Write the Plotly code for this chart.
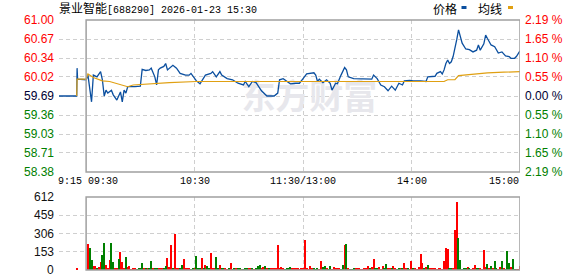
import plotly.graph_objects as go

# ---------------- data ----------------
stock_name = "景业智能"
stock_code = "688290"
trade_date = "2026-01-23"
trade_time = "15:30"
prev_close = 59.69

# minutes from 09:30 (negative = pre-market 09:15-09:30), price vertices
price_minutes = [-15, -5.2, -5, -4.7, 0, 1, 3, 4, 6, 8, 9, 10, 11, 12, 14, 15, 17, 19, 20, 21,
                 22, 23, 27, 30, 31, 33, 35, 36, 38, 39, 40, 41, 43, 44, 45, 46, 48, 50, 52, 55,
                 57, 58, 61, 63, 66, 69, 70, 72, 74, 75, 78, 81, 84, 87, 88, 90, 92, 94, 97, 100,
                 104, 106, 107, 109, 111, 113, 116, 118, 120, 122, 126, 127, 128, 129, 131, 133, 135, 136, 138, 139,
                 141, 143, 144, 145, 148, 153, 158, 159, 161, 163, 165, 167, 169, 171, 173, 175, 176, 179, 181, 185,
                 188, 189, 193, 194, 196, 197, 198, 199, 200, 201, 202, 203, 204, 205, 206, 207, 208, 210, 212, 214,
                 216, 217, 218, 220, 221, 222, 223, 224, 226, 228, 230, 232, 234, 235, 237, 238, 240]
price_values = [59.69, 59.69, 60.17, 59.98, 59.97, 60.05, 59.59, 60.05, 60.02, 60.11, 59.97, 59.69, 59.79, 59.74, 59.79, 59.71, 59.62, 59.76, 59.59, 59.79,
                59.74, 59.85, 59.85, 59.86, 60.15, 60.13, 60.14, 60.17, 60.02, 59.88, 60.14, 60.17, 60.20, 60.25, 60.14, 60.17, 60.22, 60.17, 60.08, 60.05,
                60.05, 60.08, 59.95, 59.90, 60.05, 60.08, 60.11, 60.02, 60.11, 60.05, 59.99, 59.97, 59.91, 59.88, 59.94, 59.85, 59.94, 59.92, 59.78, 59.69,
                59.69, 59.74, 59.97, 59.99, 59.94, 59.90, 59.91, 59.91, 59.99, 60.07, 60.09, 60.05, 59.94, 59.98, 59.92, 59.97, 59.91, 59.79, 59.91, 59.90,
                60.05, 60.18, 60.14, 60.02, 59.99, 59.98, 59.98, 60.05, 59.99, 59.88, 59.85, 59.78, 59.86, 59.79, 59.91, 59.88, 59.95, 59.96, 59.95, 59.95,
                59.94, 60.02, 60.03, 60.08, 60.11, 60.07, 60.14, 60.25, 60.31, 60.25, 60.28, 60.37, 60.50, 60.66, 60.83, 60.72, 60.60, 60.50, 60.49, 60.45,
                60.48, 60.57, 60.48, 60.59, 60.74, 60.68, 60.63, 60.57, 60.54, 60.43, 60.45, 60.38, 60.37, 60.34, 60.34, 60.37, 60.47]

avg_minutes = [-5.2, -5, 0, 1, 4, 9, 13, 19, 23, 26, 34, 46, 61, 198, 200, 204, 206, 214, 222, 231, 240]
avg_values = [59.69, 59.98, 59.98, 60.07, 60.01, 59.95, 59.94, 59.88, 59.85, 59.88, 59.90, 59.92, 59.94, 59.94,
              59.97, 59.97, 60.04, 60.07, 60.09, 60.10, 60.11]

# per-minute volume, minute 0..240 (lots)
volume = [0, 218, 184, 84, 34, 34, 14, 25, 67, 126,
          226, 42, 14, 84, 226, 67, 10, 10, 92, 151,
          67, 10, 109, 25, 34, 8, 10, 10, 6, 10,
          10, 59, 14, 10, 14, 10, 75, 14, 10, 10,
          10, 17, 10, 10, 34, 101, 25, 209, 10, 300,
          10, 10, 10, 42, 95, 10, 10, 10, 6, 10,
          10, 117, 10, 10, 101, 10, 42, 34, 10, 142,
          10, 10, 109, 17, 42, 10, 10, 10, 6, 10,
          59, 6, 10, 10, 10, 10, 6, 6, 17, 10,
          10, 10, 10, 6, 10, 34, 42, 17, 25, 34,
          10, 10, 10, 10, 10, 17, 209, 10, 25, 10,
          6, 10, 17, 25, 10, 10, 10, 10, 6, 10,
          10, 255, 10, 6, 34, 10, 10, 6, 10, 6,
          75, 28, 34, 10, 6, 34, 6, 22, 10, 10,
          10, 6, 42, 209, 218, 10, 6, 6, 10, 10,
          10, 10, 6, 6, 10, 10, 34, 10, 22, 92,
          10, 10, 22, 6, 34, 10, 50, 10, 10, 17,
          34, 10, 6, 10, 10, 10, 59, 10, 10, 6,
          75, 10, 10, 6, 25, 134, 59, 10, 22, 42,
          17, 10, 17, 17, 6, 10, 10, 6, 75, 184,
          173, 10, 10, 10, 335, 570, 268, 84, 6, 10,
          10, 22, 10, 6, 10, 42, 10, 10, 10, 6,
          168, 22, 50, 10, 34, 10, 75, 10, 6, 22,
          75, 10, 6, 159, 59, 22, 92, 6, 6, 6, 34]
# r = up minute (red), g = down minute (green)
volume_dir = ("rrggrrgrrg" "grrrggrrgr" "rrgrrrrrgg" "ggrgrggrgg" "rrrggrrrgr"
              "rrggrrrrgg" "rgggrgrggr" "rrggrggrrg" "rggrggrggg" "rrgrgggrrg"
              "rgrrrrrrrr" "ggggrrrrrr" "rrrrrrgggr" "rggrggrrrr" "rggrgrgggr"
              "rrrrrrrgrr" "ggrrrggrrg" "rrggrgrrgr" "rgrrrrrgrg" "rrrrrrrrrr"
              "rggrrrgggg" "grgrrrggrr" "rrgrgrggrr" "grgggrggrrr")
auction_minute = -5
auction_volume = 17

price_tick_labels = ["61.00", "60.67", "60.34", "60.02", "59.69", "59.36", "59.03", "58.71", "58.38"]
pct_tick_labels = ["2.19 %", "1.65 %", "1.10 %", "0.55 %", "0.00 %", "0.55 %", "1.10 %", "1.65 %", "2.19 %"]
vol_ticks = [0, 153, 306, 459, 612]
time_ticks = [-15, 0, 60, 120, 180, 240]
time_labels = ["9:15", "09:30", "10:30", "11:30/13:00", "14:00", "15:00"]
legend_labels = ["价格", "均线"]
watermark = "东方财富"

# ---------------- styling ----------------
W, H = 578, 276
def px(x):
    return x / W
def py(y):
    return 1 - y / H

UP, DOWN, FLAT = "#ff0000", "#008000", "#000033"
LINE_BLUE, LINE_AVG = "#0b4f9f", "#e0a012"
GRID = "#cfcfcf"
FRAME = "#a0a0a0"
NUM_FONT = "Liberation Sans, Arial, sans-serif"
MONO_FONT = "Liberation Mono, Noto Sans CJK SC, monospace"
CJK_FONT = "Noto Sans CJK SC, sans-serif"

fig = go.Figure()

# watermark (drawn first, beneath data)
fig.add_trace(go.Scatter(x=[123.5], y=[59.62], mode="text", text=["<b>" + watermark + "</b>"],
                         textfont=dict(family=CJK_FONT, size=34, color="#e7e7ec"),
                         hoverinfo="skip", showlegend=False, xaxis="x", yaxis="y"))

fig.add_trace(go.Scatter(x=price_minutes, y=price_values, mode="lines",
                         line=dict(color=LINE_BLUE, width=1.3), showlegend=False,
                         xaxis="x", yaxis="y"))
fig.add_trace(go.Scatter(x=avg_minutes, y=avg_values, mode="lines",
                         line=dict(color=LINE_AVG, width=1.2), showlegend=False,
                         xaxis="x", yaxis="y"))

minutes = list(range(len(volume)))
up_x = [m for m, d in zip(minutes, volume_dir) if d == "r"] + [auction_minute]
up_y = [v for v, d in zip(volume, volume_dir) if d == "r"] + [auction_volume]
dn_x = [m for m, d in zip(minutes, volume_dir) if d == "g"]
dn_y = [v for v, d in zip(volume, volume_dir) if d == "g"]
fig.add_trace(go.Bar(x=up_x, y=up_y, width=0.6, marker=dict(color=UP, line=dict(width=0)),
                     showlegend=False, xaxis="x2", yaxis="y3"))
fig.add_trace(go.Bar(x=dn_x, y=dn_y, width=0.6, marker=dict(color=DOWN, line=dict(width=0)),
                     showlegend=False, xaxis="x2", yaxis="y3"))

price_pos = [float(t) for t in price_tick_labels]
xdom = [px(59), px(520)]
grid_common = dict(showgrid=True, gridcolor=GRID, griddash="4px,3px", gridwidth=1,
                   zeroline=False, showline=False, showticklabels=False, ticks="")

fig.update_layout(
    width=W, height=H, margin=dict(l=0, r=0, t=0, b=0),
    paper_bgcolor="white", plot_bgcolor="white", bargap=0,
    xaxis=dict(domain=xdom, range=[-15, 240], tickvals=[-15, 60, 120, 180], anchor="y", **grid_common),
    yaxis=dict(domain=[py(172), py(20)], range=[price_pos[-1], price_pos[0]], tickvals=price_pos,
               anchor="x", **grid_common),
    xaxis2=dict(domain=xdom, range=[-15, 240], tickvals=[-15, 60, 120, 180], anchor="y3", **grid_common),
    yaxis3=dict(domain=[py(270), py(197)], range=[0, vol_ticks[-1]], tickvals=vol_ticks,
                anchor="x2", **grid_common),
)

shapes = [
    dict(type="rect", xref="x", yref="y domain", x0=0, x1=240, y0=0, y1=1,
         line=dict(color=FRAME, width=1.5), layer="above"),
    dict(type="rect", xref="x2", yref="y3 domain", x0=0, x1=240, y0=0, y1=1,
         line=dict(color=FRAME, width=1.5), layer="above"),
    # legend swatches
    dict(type="line", xref="paper", yref="paper", x0=px(461.5), x1=px(466.5), y0=py(7.5), y1=py(7.5),
         line=dict(color=LINE_BLUE, width=3)),
    dict(type="line", xref="paper", yref="paper", x0=px(508), x1=px(513), y0=py(7.5), y1=py(7.5),
         line=dict(color=LINE_AVG, width=3)),
]

ann = []
for lab, pos in zip(price_tick_labels, price_pos):
    c = UP if pos > prev_close + 1e-9 else (DOWN if pos < prev_close - 1e-9 else FLAT)
    ann.append(dict(x=px(56), y=pos, xref="paper", yref="y", text=lab, showarrow=False,
                    xanchor="right", yanchor="middle", font=dict(family=NUM_FONT, size=12, color=c)))
for lab, pos in zip(pct_tick_labels, price_pos):
    c = UP if pos > prev_close + 1e-9 else (DOWN if pos < prev_close - 1e-9 else FLAT)
    ann.append(dict(x=px(523), y=pos, xref="paper", yref="y", text=lab, showarrow=False,
                    xanchor="left", yanchor="middle", font=dict(family=NUM_FONT, size=12, color=c)))
for v in vol_ticks:
    ann.append(dict(x=px(56), y=v, xref="paper", yref="y3", text=str(v), showarrow=False,
                    xanchor="right", yanchor="middle", font=dict(family=NUM_FONT, size=12, color="#111111")))
anchors = ["left", "left", "center", "center", "center", "right"]
shifts = [-3, 0, 0, 0, 0, 1]
for lab, t, a, s in zip(time_labels, time_ticks, anchors, shifts):
    ann.append(dict(x=t, y=py(181.5), xref="x", yref="paper", text=lab, showarrow=False,
                    xanchor=a, yanchor="middle", xshift=s,
                    font=dict(family=MONO_FONT, size=10, color="#000000")))
# title
ann.append(dict(x=px(57), y=py(9), xref="paper", yref="paper",
                text='<span style="font-size:12px">' + stock_name + '</span>[' + stock_code + '] '
                     + trade_date + ' ' + trade_time,
                showarrow=False, xanchor="left", yanchor="middle",
                font=dict(family=MONO_FONT, size=10, color="#000000")))
ann.append(dict(x=px(431), y=py(8.5), xref="paper", yref="paper", text=legend_labels[0], showarrow=False,
                xanchor="left", yanchor="middle", font=dict(family=CJK_FONT, size=12, color="#000000")))
ann.append(dict(x=px(476), y=py(8.5), xref="paper", yref="paper", text=legend_labels[1], showarrow=False,
                xanchor="left", yanchor="middle", font=dict(family=CJK_FONT, size=12, color="#000000")))

fig.update_layout(shapes=shapes, annotations=ann)
fig.write_html("out.html")
